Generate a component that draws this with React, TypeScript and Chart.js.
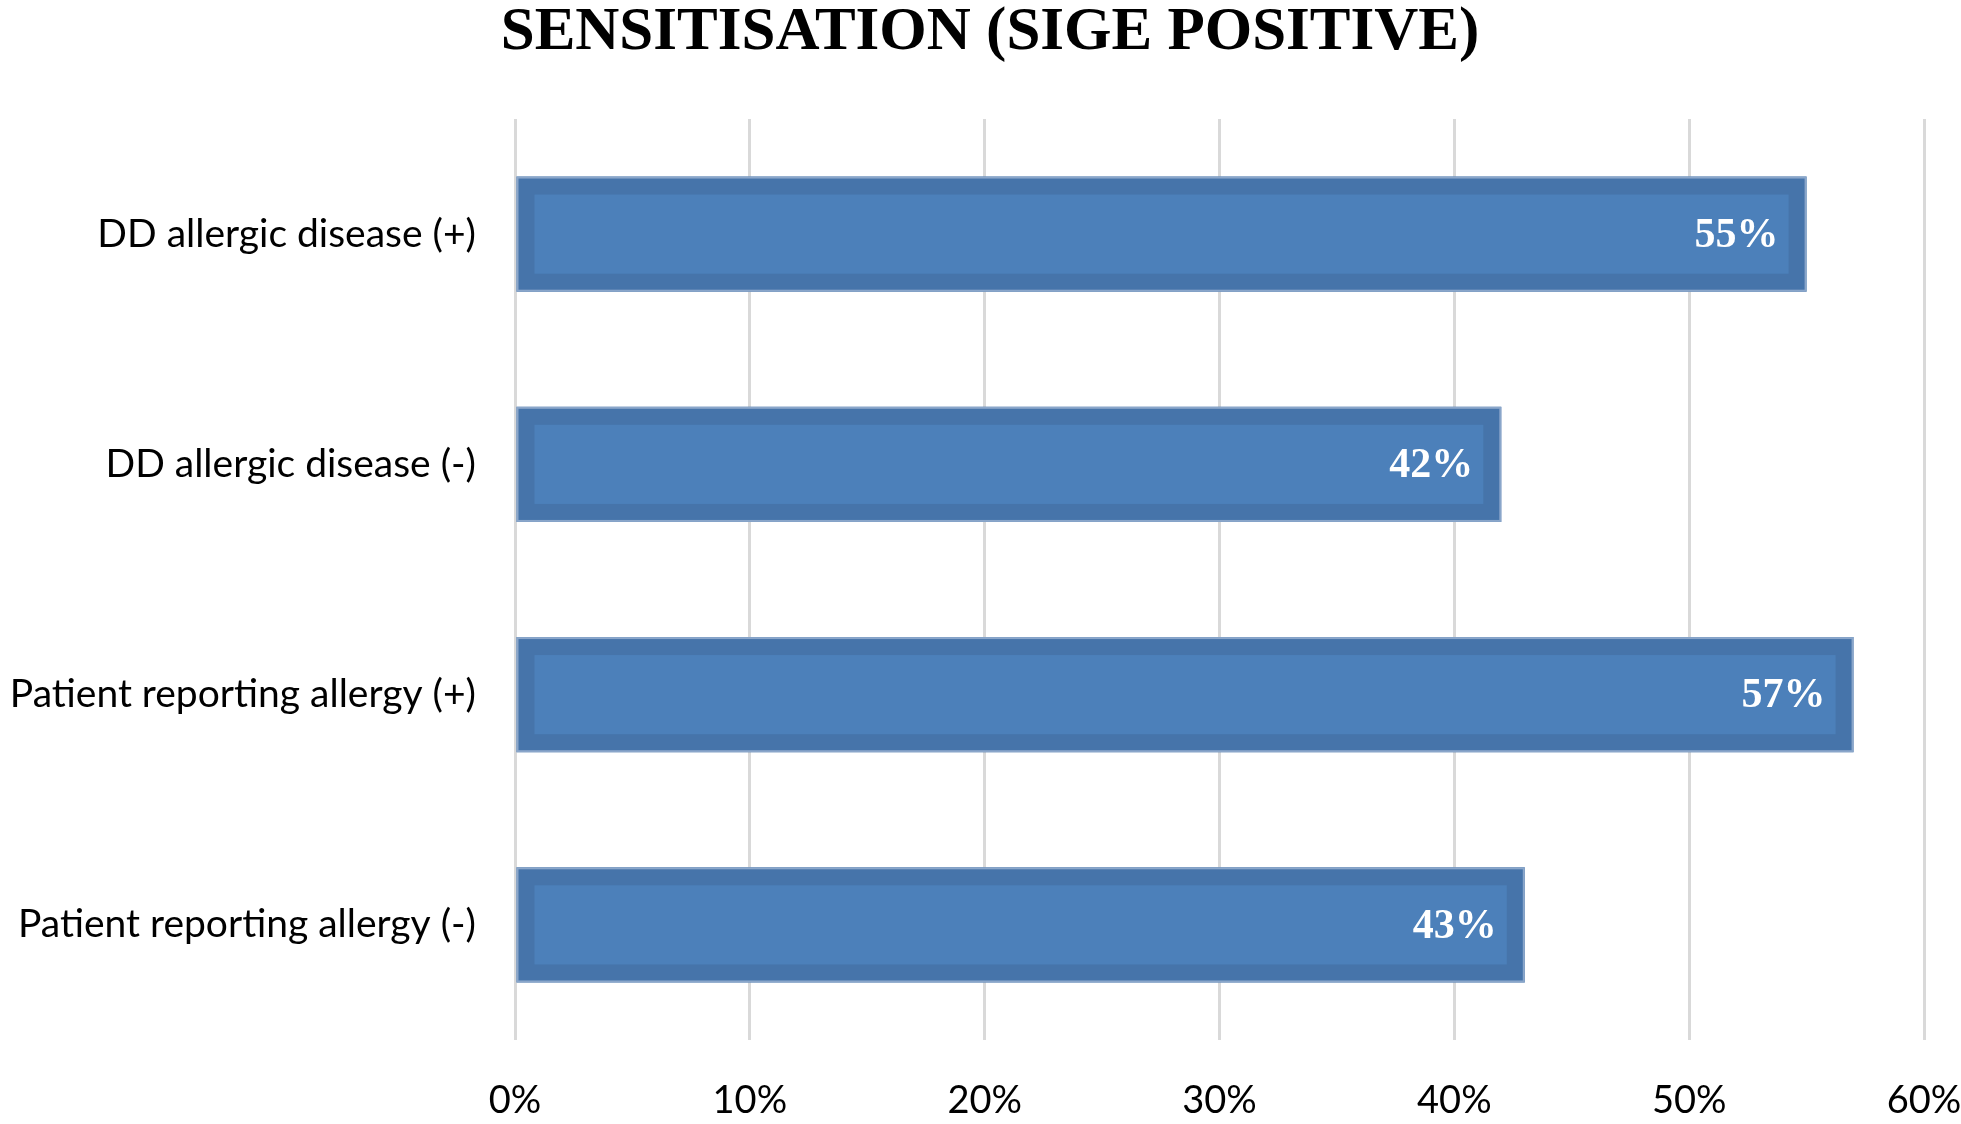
import React, { useEffect, useRef } from "react";
import { Chart, registerables } from "chart.js";

Chart.register(...registerables);

const categories = [
  "DD allergic disease (+)",
  "DD allergic disease (-)",
  "Patient reporting allergy (+)",
  "Patient reporting allergy (-)",
];
const values = [55, 42, 57, 43];
const xTicks = [0, 10, 20, 30, 40, 50, 60];
const titleText = "SENSITISATION (SIGE POSITIVE)";

const W = 1961;
const H = 1124;

const barDecor = {
  id: "barDecor",
  afterDatasetsDraw(chart: any) {
    const ctx = chart.ctx;
    const meta = chart.getDatasetMeta(0);
    ctx.save();
    meta.data.forEach((bar: any, i: number) => {
      const left = Math.min(bar.base, bar.x);
      const right = Math.max(bar.base, bar.x);
      const top = bar.y - bar.height / 2;
      const bottom = bar.y + bar.height / 2;
      const inset = 18;
      ctx.fillStyle = "#4C80BA";
      ctx.fillRect(left + inset, top + inset, right - left - 2 * inset, bottom - top - 2 * inset);
      ctx.strokeStyle = "#8AA6CA";
      ctx.lineWidth = 2;
      ctx.strokeRect(left + 1, top + 1, right - left - 2, bottom - top - 2);
      ctx.fillStyle = "#FFFFFF";
      ctx.font = "bold 42px 'Liberation Serif', 'Times New Roman', serif";
      ctx.textAlign = "right";
      ctx.textBaseline = "middle";
      ctx.fillText(values[i] + "%", right - 28, bar.y + 2);
    });
    ctx.restore();
  },
};

const titleDraw = {
  id: "titleDraw",
  afterDraw(chart: any) {
    const ctx = chart.ctx;
    ctx.save();
    ctx.fillStyle = "#000000";
    ctx.font = "bold 61px 'Liberation Serif', 'Times New Roman', serif";
    ctx.textAlign = "center";
    ctx.textBaseline = "middle";
    ctx.fillText(titleText, 990, 33);
    ctx.restore();
  },
};

export default function App() {
  const ref = useRef<HTMLCanvasElement | null>(null);
  useEffect(() => {
    document.body.style.margin = "0";
    const canvas = ref.current;
    if (!canvas) return;
    const chart = new Chart(canvas, {
      type: "bar",
      data: {
        labels: categories,
        datasets: [
          {
            data: values,
            backgroundColor: "#4674AA",
            borderWidth: 0,
            barPercentage: 0.5,
            categoryPercentage: 1,
          },
        ],
      },
      options: {
        indexAxis: "y",
        animation: false,
        responsive: false,
        devicePixelRatio: 1,
        layout: { padding: { left: 0, right: 0, top: 119, bottom: 0 } },
        plugins: {
          legend: { display: false },
          tooltip: { enabled: false },
          title: { display: false },
        },
        scales: {
          x: {
            min: 0,
            max: 60,
            afterBuildTicks: (scale: any) => {
              scale.ticks = xTicks.map((v) => ({ value: v }));
            },
            afterFit: (scale: any) => {
              scale.height = 84;
              scale.paddingRight = 37;
              scale.paddingLeft = 0;
            },
            grid: { color: "#D9D9D9", lineWidth: 3, drawTicks: false },
            border: { display: false },
            ticks: {
              padding: 38,
              color: "#000000",
              font: { family: "Lato", size: 38 },
              callback: (v: any) => v + "%",
            },
          },
          y: {
            afterFit: (scale: any) => {
              scale.width = 515;
            },
            grid: { display: false, drawTicks: false },
            border: { display: false },
            ticks: {
              padding: 39,
              color: "#000000",
              font: { family: "Lato", size: 39 },
            },
          },
        },
      },
      plugins: [barDecor, titleDraw],
    });
    return () => chart.destroy();
  }, []);
  return (
    <div style={{ width: W, height: H, background: "#fff" }}>
      <canvas ref={ref} width={W} height={H} style={{ display: "block" }} />
    </div>
  );
}
